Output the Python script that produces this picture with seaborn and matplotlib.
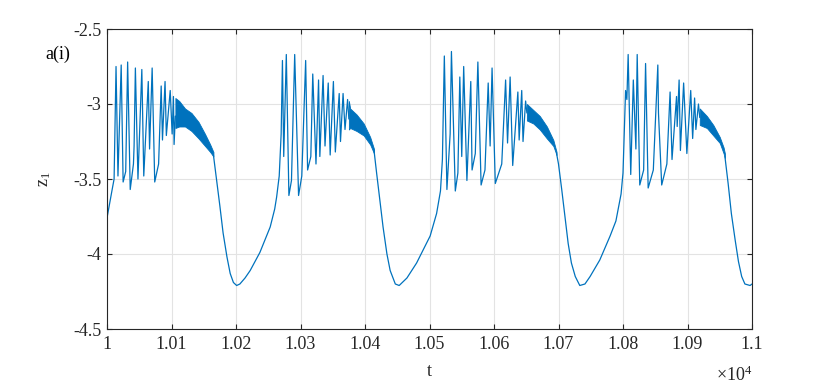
import matplotlib
matplotlib.use("Agg")
import matplotlib.pyplot as plt
import seaborn as sns
from matplotlib.ticker import FuncFormatter

# trace pieces (t, z_1); the dense fast-oscillation bands are kept as envelopes
seg1_t = [10000, 10008, 10011, 10014, 10017, 10022, 10025, 10029, 10032, 10036, 10041, 10042, 10044,
          10048, 10054, 10057, 10064, 10066, 10070, 10074, 10080, 10084, 10086, 10090, 10092, 10098,
          10101, 10103, 10104, 10106]
seg1_z = [-3.76, -3.57, -3.50, -2.75, -3.48, -2.74, -3.52, -3.45, -2.72, -3.57, -3.40, -3.28, -2.76,
          -3.50, -2.77, -3.48, -2.85, -3.30, -2.76, -3.52, -3.40, -2.88, -3.24, -2.85, -3.21, -2.91,
          -3.20, -2.95, -3.27, -3.08]

band1_t = [10106, 10112, 10121, 10131, 10142, 10152, 10160, 10165]
band1_hi = [-2.96, -2.98, -3.03, -3.06, -3.12, -3.20, -3.27, -3.32]
band1_lo = [-3.16, -3.15, -3.15, -3.18, -3.23, -3.28, -3.32, -3.35]

seg2_t = [10165, 10170, 10175, 10180, 10186, 10191, 10196, 10201, 10206, 10214, 10222, 10237, 10253,
          10260, 10263, 10267, 10270, 10272, 10274, 10278, 10282, 10286, 10291, 10297, 10302, 10308,
          10311, 10316, 10319, 10324, 10328, 10330, 10335, 10338, 10343, 10346, 10351, 10354, 10360,
          10362, 10366, 10369, 10373, 10375]
seg2_z = [-3.34, -3.51, -3.68, -3.86, -4.02, -4.13, -4.19, -4.21, -4.20, -4.16, -4.11, -3.99, -3.82,
          -3.70, -3.62, -3.48, -3.20, -2.71, -3.35, -2.67, -3.61, -3.51, -2.67, -3.61, -3.48, -2.71,
          -3.44, -3.35, -2.80, -3.40, -2.84, -3.35, -2.81, -3.28, -2.86, -3.34, -2.85, -3.32, -2.93,
          -3.25, -2.93, -3.17, -2.97, -3.10]

band2_t = [10375, 10377, 10387, 10398, 10408, 10414]
band2_hi = [-2.98, -3.03, -3.07, -3.13, -3.22, -3.30]
band2_lo = [-3.17, -3.16, -3.18, -3.21, -3.27, -3.33]

seg3_t = [10414, 10418, 10423, 10428, 10434, 10439, 10447, 10453, 10465, 10480, 10501, 10511, 10517,
          10520, 10523, 10527, 10532, 10534, 10540, 10544, 10547, 10550, 10553, 10558, 10564, 10566,
          10571, 10575, 10580, 10586, 10591, 10594, 10597, 10602, 10612, 10618, 10621, 10625, 10629,
          10637, 10639, 10643, 10645, 10649, 10651]
seg3_z = [-3.31, -3.46, -3.64, -3.82, -4.00, -4.11, -4.20, -4.21, -4.16, -4.06, -3.88, -3.73, -3.58,
          -3.37, -2.68, -3.57, -3.20, -2.65, -3.58, -3.46, -2.82, -3.35, -2.75, -3.51, -2.85, -3.44,
          -3.33, -2.72, -3.54, -3.44, -2.86, -3.28, -2.76, -3.53, -3.40, -2.84, -3.26, -2.82, -3.41,
          -2.92, -3.24, -2.91, -3.25, -2.98, -3.06]

band3_t = [10651, 10661, 10671, 10682, 10692, 10697]
band3_hi = [-3.00, -3.04, -3.08, -3.15, -3.24, -3.32]
band3_lo = [-3.11, -3.13, -3.17, -3.23, -3.28, -3.34]

seg4_t = [10697, 10700, 10705, 10710, 10715, 10720, 10726, 10733, 10741, 10749, 10764, 10780, 10789,
          10797, 10800, 10804, 10806, 10808, 10812, 10816, 10820, 10822, 10826, 10832, 10835, 10839,
          10847, 10854, 10855, 10860, 10868, 10873, 10876, 10883, 10884, 10887, 10889, 10894, 10899,
          10905, 10908, 10911, 10913, 10917, 10919]
seg4_z = [-3.33, -3.40, -3.57, -3.75, -3.93, -4.06, -4.15, -4.21, -4.20, -4.15, -4.04, -3.88, -3.78,
          -3.60, -3.46, -2.91, -2.97, -2.67, -3.47, -2.84, -3.30, -2.67, -3.54, -3.44, -2.73, -3.56,
          -3.44, -2.74, -3.06, -3.54, -3.40, -2.92, -3.37, -2.95, -3.15, -2.84, -3.31, -2.86, -3.33,
          -2.91, -3.23, -2.96, -3.17, -3.00, -3.09]

band4_t = [10919, 10930, 10940, 10950, 10956, 10958]
band4_hi = [-3.03, -3.08, -3.14, -3.22, -3.29, -3.33]
band4_lo = [-3.14, -3.16, -3.21, -3.26, -3.33, -3.36]

seg5_t = [10958, 10963, 10968, 10974, 10979, 10984, 10989, 10997, 11000]
seg5_z = [-3.35, -3.53, -3.73, -3.91, -4.05, -4.15, -4.20, -4.21, -4.20]

x_ticks = [10000, 10100, 10200, 10300, 10400, 10500, 10600, 10700, 10800, 10900, 11000]
y_ticks = [-4.5, -4.0, -3.5, -3.0, -2.5]

blue = "#0072BD"
dark = "#262626"

sns.set_style("whitegrid")
plt.rcParams["font.family"] = ["Liberation Serif", "DejaVu Serif"]
plt.rcParams["mathtext.fontset"] = "custom"
plt.rcParams["mathtext.rm"] = "Liberation Serif"
plt.rcParams["axes.unicode_minus"] = False

fig = plt.figure(figsize=(8.3, 3.87), dpi=100)
ax = fig.add_axes([107 / 830, 1 - 329 / 387, 645 / 830, 300 / 387])

segments = [(seg1_t, seg1_z), (seg2_t, seg2_z), (seg3_t, seg3_z), (seg4_t, seg4_z), (seg5_t, seg5_z)]
for t, z in segments:
    sns.lineplot(x=t, y=z, ax=ax, color=blue, lw=0.9, sort=False, estimator=None)

bands = [(band1_t, band1_hi, band1_lo), (band2_t, band2_hi, band2_lo),
         (band3_t, band3_hi, band3_lo), (band4_t, band4_hi, band4_lo)]
for bt, hi, lo in bands:
    ax.fill_between(bt, lo, hi, color=blue, lw=0.6)

ax.set_xlim(10000, 11000)
ax.set_ylim(-4.5, -2.5)
ax.set_xticks(x_ticks)
ax.set_yticks(y_ticks)
ax.xaxis.set_major_formatter(FuncFormatter(lambda v, p: f"{v / 1e4:g}"))
ax.yaxis.set_major_formatter(FuncFormatter(lambda v, p: f"{v:g}"))

ax.grid(True, color="#e3e3e3", lw=0.8)
for s in ax.spines.values():
    s.set_visible(True)
    s.set_color(dark)
    s.set_linewidth(0.8)
ax.tick_params(direction="in", length=3.6, width=0.8, color=dark, labelcolor=dark,
               labelsize=13, top=True, right=True, bottom=True, left=True)
ax.tick_params(axis="x", pad=5)
ax.tick_params(axis="y", pad=4)

ax.set_xlabel("t", fontsize=13, color=dark)
ax.xaxis.set_label_coords(0.5, -0.115)
ax.set_ylabel(r"$\mathregular{z_1}$", fontsize=13, color=dark)
ax.yaxis.set_label_coords(-0.084, 0.5)

ax.text(1.0, -0.155, r"$\mathregular{\times10^4}$", transform=ax.transAxes,
        ha="right", va="center", fontsize=13, color=dark)
fig.text(45 / 830, 1 - 54 / 387, "a(i)", ha="left", va="center", fontsize=13, color="black")

fig.savefig("out.png", dpi=100)
